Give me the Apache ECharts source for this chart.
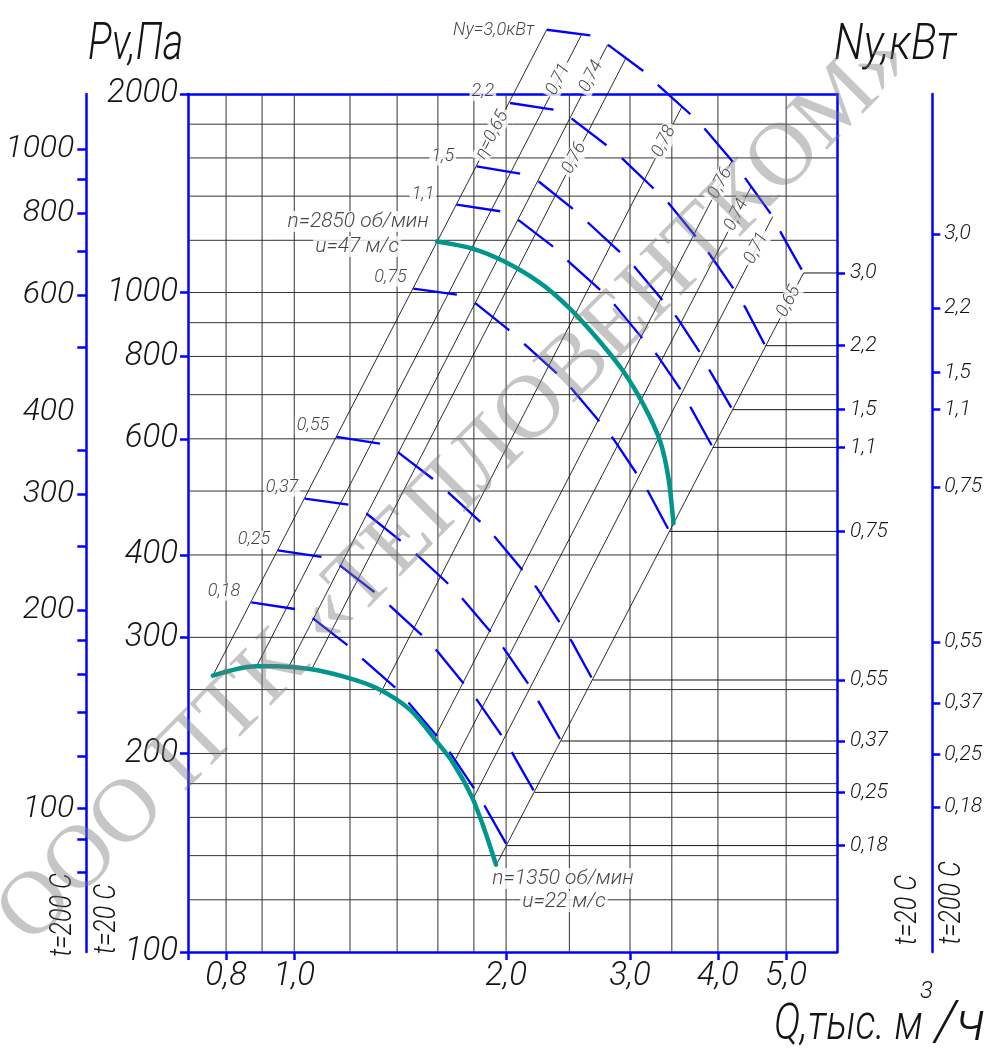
<!DOCTYPE html>
<html><head><meta charset="utf-8">
<script src="https://cdn.jsdelivr.net/npm/echarts@6/dist/echarts.min.js"></script>
<style>html,body{margin:0;padding:0;background:#fff}#c{width:1002px;height:1056px}</style>
</head><body><div id="c"></div>
<script>
// ================= DATA =================
// axis ranges (Q in thousand m3/h, Pv in Pa)
const X_MIN = 0.7063, X_MAX = 5.9055, Y_MIN = 100, Y_MAX = 2000;
const F200 = 0.6062; // Pv scale ratio for t=200 C

const qGrid = [0.8, 0.9, 1.0, 1.2, 1.4, 1.6, 1.8, 2.0, 2.46, 3.0, 3.44, 4.0, 5.0];
const pGrid = [1800, 1600, 1400, 1200, 1000, 900, 800, 700, 600, 500, 400, 300, 250, 200, 180, 160, 140, 120];
const qTicks = [0.8, 1.0, 2.0, 3.0, 4.0, 5.0];
const pTicks = [2000, 1000, 800, 600, 400, 300, 200, 100];
const p200Labels = [1000, 800, 600, 400, 300, 200, 100];
const p200Ticks = [1000, 900, 800, 700, 600, 500, 350, 300, 250, 200, 180, 160, 140, 120, 100, 90, 80];

const nyLabels = ['3,0', '2,2', '1,5', '1,1', '0,75', '0,55', '0,37', '0,25', '0,18'];
const nyP20 = [1070.6, 830.6, 664.3, 582.3, 434.3, 258.5, 208.9, 174.6, 145.0];
const nyP200 = [1226.9, 947.5, 756.7, 664.3, 507.1, 295.2, 238.6, 199.4, 165.9];

// fan curves
const q2850 = [1.596, 1.796, 1.986, 2.235, 2.460, 2.691, 2.936, 3.135, 3.311, 3.402, 3.458];
const p2850 = [1195, 1165, 1115, 1034, 947, 853, 759, 676, 595, 523, 447];
const q1350 = [0.766, 0.884, 0.943, 1.052, 1.173, 1.309, 1.460, 1.593, 1.682, 1.787, 1.856, 1.935];
const p1350 = [262.4, 271.1, 271.1, 268.7, 261.8, 251.4, 233.1, 208.6, 193.5, 172.2, 155.1, 135.7];

// motor power curves (Ny, kW)
const arcNames = ['0,18', '0,25', '0,37', '0,55', '0,75', '1,1', '1,5', '2,2', 'Ny=3,0кВт'];
const q018 = [0.869, 1.002, 1.064, 1.193, 1.249, 1.393, 1.455, 1.611, 1.664, 1.806, 1.866, 2.007];
const p018 = [339.0, 331.2, 320.2, 291.4, 278.5, 251.4, 238.6, 209.9, 200.8, 176.3, 166.3, 145.0];
const q025 = [0.948, 1.097, 1.161, 1.305, 1.367, 1.525, 1.593, 1.754, 1.820, 1.982, 2.044, 2.196];
const p025 = [406.4, 397.2, 385.7, 350.3, 335.1, 301.0, 286.7, 252.8, 240.7, 211.1, 199.7, 174.6];
const q037 = [1.035, 1.195, 1.269, 1.423, 1.489, 1.660, 1.735, 1.911, 1.986, 2.163, 2.230, 2.395];
const p037 = [486.8, 476.8, 461.5, 418.5, 401.4, 360.6, 343.0, 303.9, 288.4, 252.8, 238.6, 208.9];
const q055 = [1.148, 1.326, 1.405, 1.579, 1.655, 1.846, 1.928, 2.123, 2.206, 2.394, 2.479, 2.656];
const p055 = [603.9, 589.9, 572.3, 520.2, 497.7, 447.2, 425.9, 376.4, 357.7, 313.6, 295.8, 258.5];
const q075 = [1.476, 1.710, 1.812, 2.030, 2.128, 2.373, 2.479, 2.726, 2.841, 3.084, 3.186, 3.413];
const p075 = [1013.5, 992.4, 961.7, 873.1, 833.5, 750.6, 714.8, 634.1, 599.7, 526.3, 498.4, 434.3];
const q110 = [1.701, 1.967, 2.088, 2.340, 2.452, 2.735, 2.857, 3.135, 3.275, 3.555, 3.673, 3.934];
const p110 = [1358.9, 1327.5, 1285.0, 1170.6, 1114.7, 1003.9, 956.1, 848.2, 804.9, 708.1, 664.3, 582.3];
const q150 = [1.816, 2.093, 2.230, 2.498, 2.618, 2.911, 3.050, 3.347, 3.497, 3.783, 3.900, 4.195];
const p150 = [1553.3, 1514.2, 1471.0, 1335.3, 1274.8, 1148.0, 1091.7, 969.5, 916.8, 806.8, 759.3, 664.3];
const q220 = [2.026, 2.334, 2.479, 2.780, 2.920, 3.246, 3.402, 3.734, 3.891, 4.219, 4.374, 4.670];
const p220 = [1938.1, 1893.3, 1834.8, 1671.4, 1599.5, 1435.4, 1366.9, 1209.7, 1144.0, 1009.9, 949.4, 830.6];
const q300 = [2.284, 2.647, 2.811, 3.152, 3.303, 3.685, 3.849, 4.233, 4.398, 4.789, 4.932, 5.294];
const p300 = [2503, 2452, 2362, 2157, 2054, 1849, 1761, 1563, 1478, 1302, 1224, 1070.6];

// efficiency rays (P ~ Q^2)
const effLabels = ['η=0,65', '0,71', '0,74', '0,76', '0,78', '0,76', '0,74', '0,71', '0,65'];
const effQLow = [0.766, 0.884, 0.980, 1.058, 1.323, 1.582, 1.684, 1.792, 1.938];
const effPLow = [262.4, 271.1, 269.5, 268.0, 245.6, 211.0, 193.4, 170.2, 135.7];
const effQHigh = [2.284, 2.560, 2.788, 2.962, 3.555, 4.189, 4.460, 4.784, 5.294];
const effPHigh = [2503, 2460, 2376, 2270, 1913, 1585, 1447, 1303, 1070.6];

// ================= STYLE =================
const FONT = "Roboto,'DejaVu Sans',sans-serif";
const BLUE = '#0000ff', TEAL = '#00968c', INK = '#141414', GRID = '#333333';
const arcLabelGap = [8.7, 5.3, 4, 4.7, 4, 19.7, 20, 13.3, 10];
const arcLabelDy = [-10.7, -10.7, -11, -11.3, -11, -10, -9.7, -11.3, 1];
const effLabelPos = [0.837, 0.929, 0.949, 0.836, 0.941, 0.961, 0.951, 0.946, 0.952];

const arcs = [[q018, p018], [q025, p025], [q037, p037], [q055, p055], [q075, p075],
              [q110, p110], [q150, p150], [q220, p220], [q300, p300]];

const zip = (a, b) => a.map((v, i) => [v, b[i]]);
const lerpLog = (a, b, f) => Math.pow(10, Math.log10(a) + f * (Math.log10(b) - Math.log10(a)));
const comma = v => v.toFixed(1).replace('.', ',');
const nearest = (arr, v) => { let bi = 0, bd = Infinity; arr.forEach((a, i) => { const d = Math.abs(Math.log(a) - Math.log(v)); if (d < bd) { bd = d; bi = i; } }); return bi; };

function lineSeries(data, lineStyle, z, clip, extra) {
  return Object.assign({ type: 'line', data, symbol: 'none', showSymbol: false, lineStyle, z, clip,
    silent: true, animation: false, xAxisIndex: 0, yAxisIndex: 0 }, extra || {});
}

const series = [];
qGrid.forEach(q => series.push(lineSeries([[q, Y_MIN], [q, Y_MAX]], { color: GRID, width: 1 }, 1, true)));
pGrid.forEach(p => series.push(lineSeries([[X_MIN, p], [X_MAX, p]], { color: GRID, width: 1 }, 1, true)));

// efficiency rays
effQLow.forEach((q, i) => series.push(lineSeries([[q, effPLow[i]], [effQHigh[i], effPHigh[i]]],
  { color: INK, width: 0.9 }, 2, false)));

// power arcs + leader lines to the right border
arcs.forEach(([q, p]) => {
  series.push(lineSeries(zip(q, p), { color: BLUE, width: 2.3, type: [44, 20], cap: 'butt' }, 3, false));
  series.push(lineSeries([[q[q.length - 1], p[p.length - 1]], [X_MAX, p[p.length - 1]]], { color: INK, width: 1 }, 2, false));
});

// fan curves
series.push(lineSeries(zip(q2850, p2850), { color: TEAL, width: 4.5, cap: 'round' }, 4, false, { smooth: 0.3 }));
series.push(lineSeries(zip(q1350, p1350), { color: TEAL, width: 4.5, cap: 'round' }, 4, false, { smooth: 0.3 }));

// annotation labels
const lblBase = { show: true, color: INK, fontFamily: FONT, fontStyle: 'italic', fontWeight: 300, fontSize: 18, backgroundColor: '#fff', padding: [0, 2] };
const annot = [];
arcs.forEach(([q, p], k) => annot.push({ value: [q[0], p[0]],
  label: Object.assign({}, lblBase, { formatter: arcNames[k], position: 'left', distance: arcLabelGap[k], offset: [0, arcLabelDy[k]] }) }));
effLabels.forEach((t, i) => annot.push({
  value: [lerpLog(effQLow[i], effQHigh[i], effLabelPos[i]), lerpLog(effPLow[i], effPHigh[i], effLabelPos[i])],
  label: Object.assign({}, lblBase, { formatter: t, position: 'inside', rotate: 62.7, fontSize: 18, padding: [0, 3] }) }));
annot.push({ value: [q2850[0], p2850[0]], label: Object.assign({}, lblBase, { formatter: 'n=2850 об/мин', position: 'inside', offset: [-79, -20], fontSize: 21 }) });
annot.push({ value: [q2850[0], p2850[0]], label: Object.assign({}, lblBase, { formatter: 'u=47 м/с', position: 'inside', offset: [-80, 5], fontSize: 21 }) });
annot.push({ value: [q1350[q1350.length - 1], p1350[p1350.length - 1]], label: Object.assign({}, lblBase, { formatter: 'n=1350 об/мин', position: 'inside', offset: [67, 14], fontSize: 21 }) });
annot.push({ value: [q1350[q1350.length - 1], p1350[p1350.length - 1]], label: Object.assign({}, lblBase, { formatter: 'u=22 м/с', position: 'inside', offset: [68, 37], fontSize: 21 }) });

series.push({ type: 'scatter', data: annot, symbolSize: 1, itemStyle: { color: 'rgba(0,0,0,0)' },
  z: 10, silent: true, animation: false, clip: false, xAxisIndex: 0, yAxisIndex: 0 });

const axLine = { show: true, onZero: false, lineStyle: { color: BLUE, width: 2.5 } };
const tickStyle = { color: BLUE, width: 2.5 };
const lblFont = { fontFamily: FONT, fontStyle: 'italic', fontWeight: 300, color: INK };

function title(text, x, y, size, align, extra) {
  return Object.assign({ type: 'text', x, y, silent: true,
    style: { text, font: 'italic 300 ' + size + 'px ' + FONT, fill: INK,
      textAlign: align, textVerticalAlign: 'middle', align, verticalAlign: 'middle' } }, extra || {});
}

const option = {
  animation: false,
  backgroundColor: '#fff',
  textStyle: { fontFamily: FONT },
  grid: { left: 188, top: 94, width: 649, height: 858, containLabel: false, outerBoundsMode: 'none' },
  xAxis: [
    { type: 'log', min: X_MIN, max: X_MAX, position: 'bottom', axisLine: axLine,
      axisTick: { show: true, customValues: [X_MIN].concat(qTicks), length: 8, lineStyle: tickStyle },
      axisLabel: Object.assign({ customValues: qTicks, formatter: v => comma(+v), fontSize: 33, margin: 8 }, lblFont),
      splitLine: { show: false }, minorTick: { show: false } },
    { type: 'log', min: X_MIN, max: X_MAX, position: 'top', axisLine: axLine,
      axisTick: { show: false }, axisLabel: { show: false }, splitLine: { show: false } }
  ],
  yAxis: [
    { type: 'log', min: Y_MIN, max: Y_MAX, position: 'left', axisLine: axLine,
      axisTick: { show: true, customValues: pTicks, length: 8, lineStyle: tickStyle },
      axisLabel: Object.assign({ customValues: pTicks, formatter: v => String(Math.round(+v)), fontSize: 33, margin: 10 }, lblFont),
      splitLine: { show: false } },
    { type: 'log', min: Y_MIN * F200, max: Y_MAX * F200, position: 'left', offset: 101.7, axisLine: axLine,
      axisTick: { show: true, customValues: p200Ticks, length: 9, lineStyle: tickStyle },
      axisLabel: Object.assign({ customValues: p200Labels, formatter: v => String(Math.round(+v)), fontSize: 32, margin: 12 }, lblFont),
      splitLine: { show: false } },
    { type: 'log', min: Y_MIN, max: Y_MAX, position: 'right', axisLine: axLine,
      axisTick: { show: true, customValues: nyP20, length: 8, lineStyle: tickStyle },
      axisLabel: Object.assign({ customValues: nyP20, formatter: v => nyLabels[nearest(nyP20, +v)], fontSize: 21, margin: 13 }, lblFont),
      splitLine: { show: false } },
    { type: 'log', min: Y_MIN, max: Y_MAX, position: 'right', offset: 95.3, axisLine: axLine,
      axisTick: { show: true, customValues: nyP200, length: 8, lineStyle: tickStyle },
      axisLabel: Object.assign({ customValues: nyP200, formatter: v => nyLabels[nearest(nyP200, +v)], fontSize: 21, margin: 12 }, lblFont),
      splitLine: { show: false } }
  ],
  graphic: [
    title('Pv,Па', 88, 46, 52, 'left', { scaleX: 0.76 }),
    title('Ny,кВт', 834, 46, 50, 'left', { scaleX: 0.86 }),
    title('Q,тыс. м', 774, 1026, 50, 'left', { scaleX: 0.8 }),
    title('3', 920, 992, 24, 'left'),
    title('/ч', 935, 1026, 56, 'left'),
    title('t=200 C', 63, 915, 32, 'center', { rotation: Math.PI / 2, scaleX: 0.78 }),
    title('t=20 C', 107, 919, 32, 'center', { rotation: Math.PI / 2, scaleX: 0.78 }),
    title('t=20 C', 908, 910, 32, 'center', { rotation: Math.PI / 2, scaleX: 0.78 }),
    title('t=200 C', 952, 903, 32, 'center', { rotation: Math.PI / 2, scaleX: 0.78 }),
    { type: 'text', x: 455, y: 488, rotation: Math.PI / 4, z: 100, silent: true,
      style: { text: 'ООО ПТК «ТЕПЛОВЕНТКОМ»', font: "90px 'Liberation Serif','DejaVu Serif',serif", fill: 'rgba(120,120,120,0.42)',
        textAlign: 'center', textVerticalAlign: 'middle', align: 'center', verticalAlign: 'middle' } }
  ],
  series
};

const chart = echarts.init(document.getElementById('c'), null, { renderer: 'canvas' });
chart.setOption(option);
</script>
</body></html>
